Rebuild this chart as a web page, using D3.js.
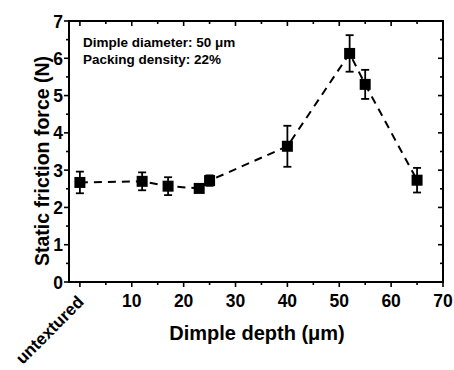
<!DOCTYPE html>
<html>
<head>
<meta charset="utf-8">
<script src="https://cdn.jsdelivr.net/npm/d3@7"></script>
<style>
  body { margin: 0; background: #fff; }
  svg text { font-family: Arial, "Liberation Sans", sans-serif; font-weight: bold; fill: #000; }
</style>
</head>
<body>
<div id="chart"></div>
<script>
// dimple depth (um), 0 = untextured
const depths = [0, 12, 17, 23, 25, 40, 52, 55, 65];
const friction = [2.67, 2.70, 2.57, 2.51, 2.72, 3.64, 6.13, 5.30, 2.73];
const errs = [0.29, 0.24, 0.24, 0.05, 0.14, 0.55, 0.49, 0.39, 0.33];
const xTicks = [0, 10, 20, 30, 40, 50, 60, 70];
const xTickLabels = ["untextured", "10", "20", "30", "40", "50", "60", "70"];
const yTicks = [0, 1, 2, 3, 4, 5, 6, 7];
const notes = ["Dimple diameter: 50 \u03bcm", "Packing density: 22%"];

const width = 454, height = 370;
const margin = {top: 21, right: 11, bottom: 88, left: 69};

const svg = d3.select("#chart").append("svg")
  .attr("width", width)
  .attr("height", height);

const x = d3.scaleLinear().domain([-2.1, 70]).range([margin.left, width - margin.right]);
const y = d3.scaleLinear().domain([0, 7]).range([height - margin.bottom, margin.top]);

const minorX = d3.range(0, 70.1, 5);
const minorY = d3.range(0, 7.01, 0.5);

// frame
svg.append("rect")
  .attr("x", x.range()[0]).attr("y", y.range()[1])
  .attr("width", x.range()[1] - x.range()[0])
  .attr("height", y.range()[0] - y.range()[1])
  .attr("fill", "none").attr("stroke", "#000").attr("stroke-width", 2);

const ticks = svg.append("g").attr("stroke", "#000").attr("stroke-width", 1.6);
// bottom (outward)
ticks.selectAll(".bt").data(minorX).enter().append("line")
  .attr("x1", d => x(d)).attr("x2", d => x(d))
  .attr("y1", y(0)).attr("y2", d => y(0) + (d % 10 === 0 ? 5 : 3));
// top (inward)
ticks.selectAll(".tt").data(minorX).enter().append("line")
  .attr("x1", d => x(d)).attr("x2", d => x(d))
  .attr("y1", y(7)).attr("y2", d => y(7) + (d % 10 === 0 ? 5 : 3));
// left (outward)
ticks.selectAll(".lt").data(minorY).enter().append("line")
  .attr("y1", d => y(d)).attr("y2", d => y(d))
  .attr("x1", x(-2.1)).attr("x2", d => x(-2.1) - (d % 1 === 0 ? 5 : 3));
// right (inward)
ticks.selectAll(".rt").data(minorY).enter().append("line")
  .attr("y1", d => y(d)).attr("y2", d => y(d))
  .attr("x1", x(70)).attr("x2", d => x(70) - (d % 1 === 0 ? 5 : 3));

// tick labels
svg.selectAll(".xl").data(xTicks.slice(1)).enter().append("text")
  .attr("x", d => x(d)).attr("y", y(0) + 25)
  .attr("text-anchor", "middle").attr("font-size", 17.5)
  .text((d, i) => xTickLabels[i + 1]);

svg.append("text")
  .attr("transform", `translate(${x(0) + 5},${y(0) + 21}) rotate(-45)`)
  .attr("text-anchor", "end").attr("font-size", 17)
  .text(xTickLabels[0]);

svg.selectAll(".yl").data(yTicks).enter().append("text")
  .attr("x", x(-2.1) - 6).attr("y", d => y(d) + 6.5)
  .attr("text-anchor", "end").attr("font-size", 17.5)
  .text(d => d);

// axis titles
svg.append("text")
  .attr("x", 257).attr("y", 340)
  .attr("text-anchor", "middle").attr("font-size", 20)
  .text("Dimple depth (\u03bcm)");

svg.append("text")
  .attr("transform", "translate(49,161) rotate(-90)")
  .attr("text-anchor", "middle").attr("font-size", 19.5)
  .text("Static friction force (N)");

// notes
svg.selectAll(".note").data(notes).enter().append("text")
  .attr("x", 83).attr("y", (d, i) => 47 + i * 16.5)
  .attr("font-size", 13.5)
  .text(d => d);

// dashed line
const pts = depths.map((d, i) => [d, friction[i]]);
svg.append("path")
  .datum(pts)
  .attr("fill", "none").attr("stroke", "#000").attr("stroke-width", 2)
  .attr("stroke-dasharray", "8,6")
  .attr("d", d3.line().x(d => x(d[0])).y(d => y(d[1])));

// error bars
const eb = svg.append("g").attr("stroke", "#000").attr("stroke-width", 1.8);
depths.forEach((d, i) => {
  const cx = x(d), top = y(friction[i] + errs[i]), bot = y(friction[i] - errs[i]);
  eb.append("line").attr("x1", cx).attr("x2", cx).attr("y1", top).attr("y2", bot);
  eb.append("line").attr("x1", cx - 4).attr("x2", cx + 4).attr("y1", top).attr("y2", top);
  eb.append("line").attr("x1", cx - 4).attr("x2", cx + 4).attr("y1", bot).attr("y2", bot);
});

// markers
svg.selectAll(".pt").data(pts).enter().append("rect")
  .attr("x", d => x(d[0]) - 5.5).attr("y", d => y(d[1]) - 5.5)
  .attr("width", 11).attr("height", 11)
  .attr("fill", "#000");
</script>
</body>
</html>
